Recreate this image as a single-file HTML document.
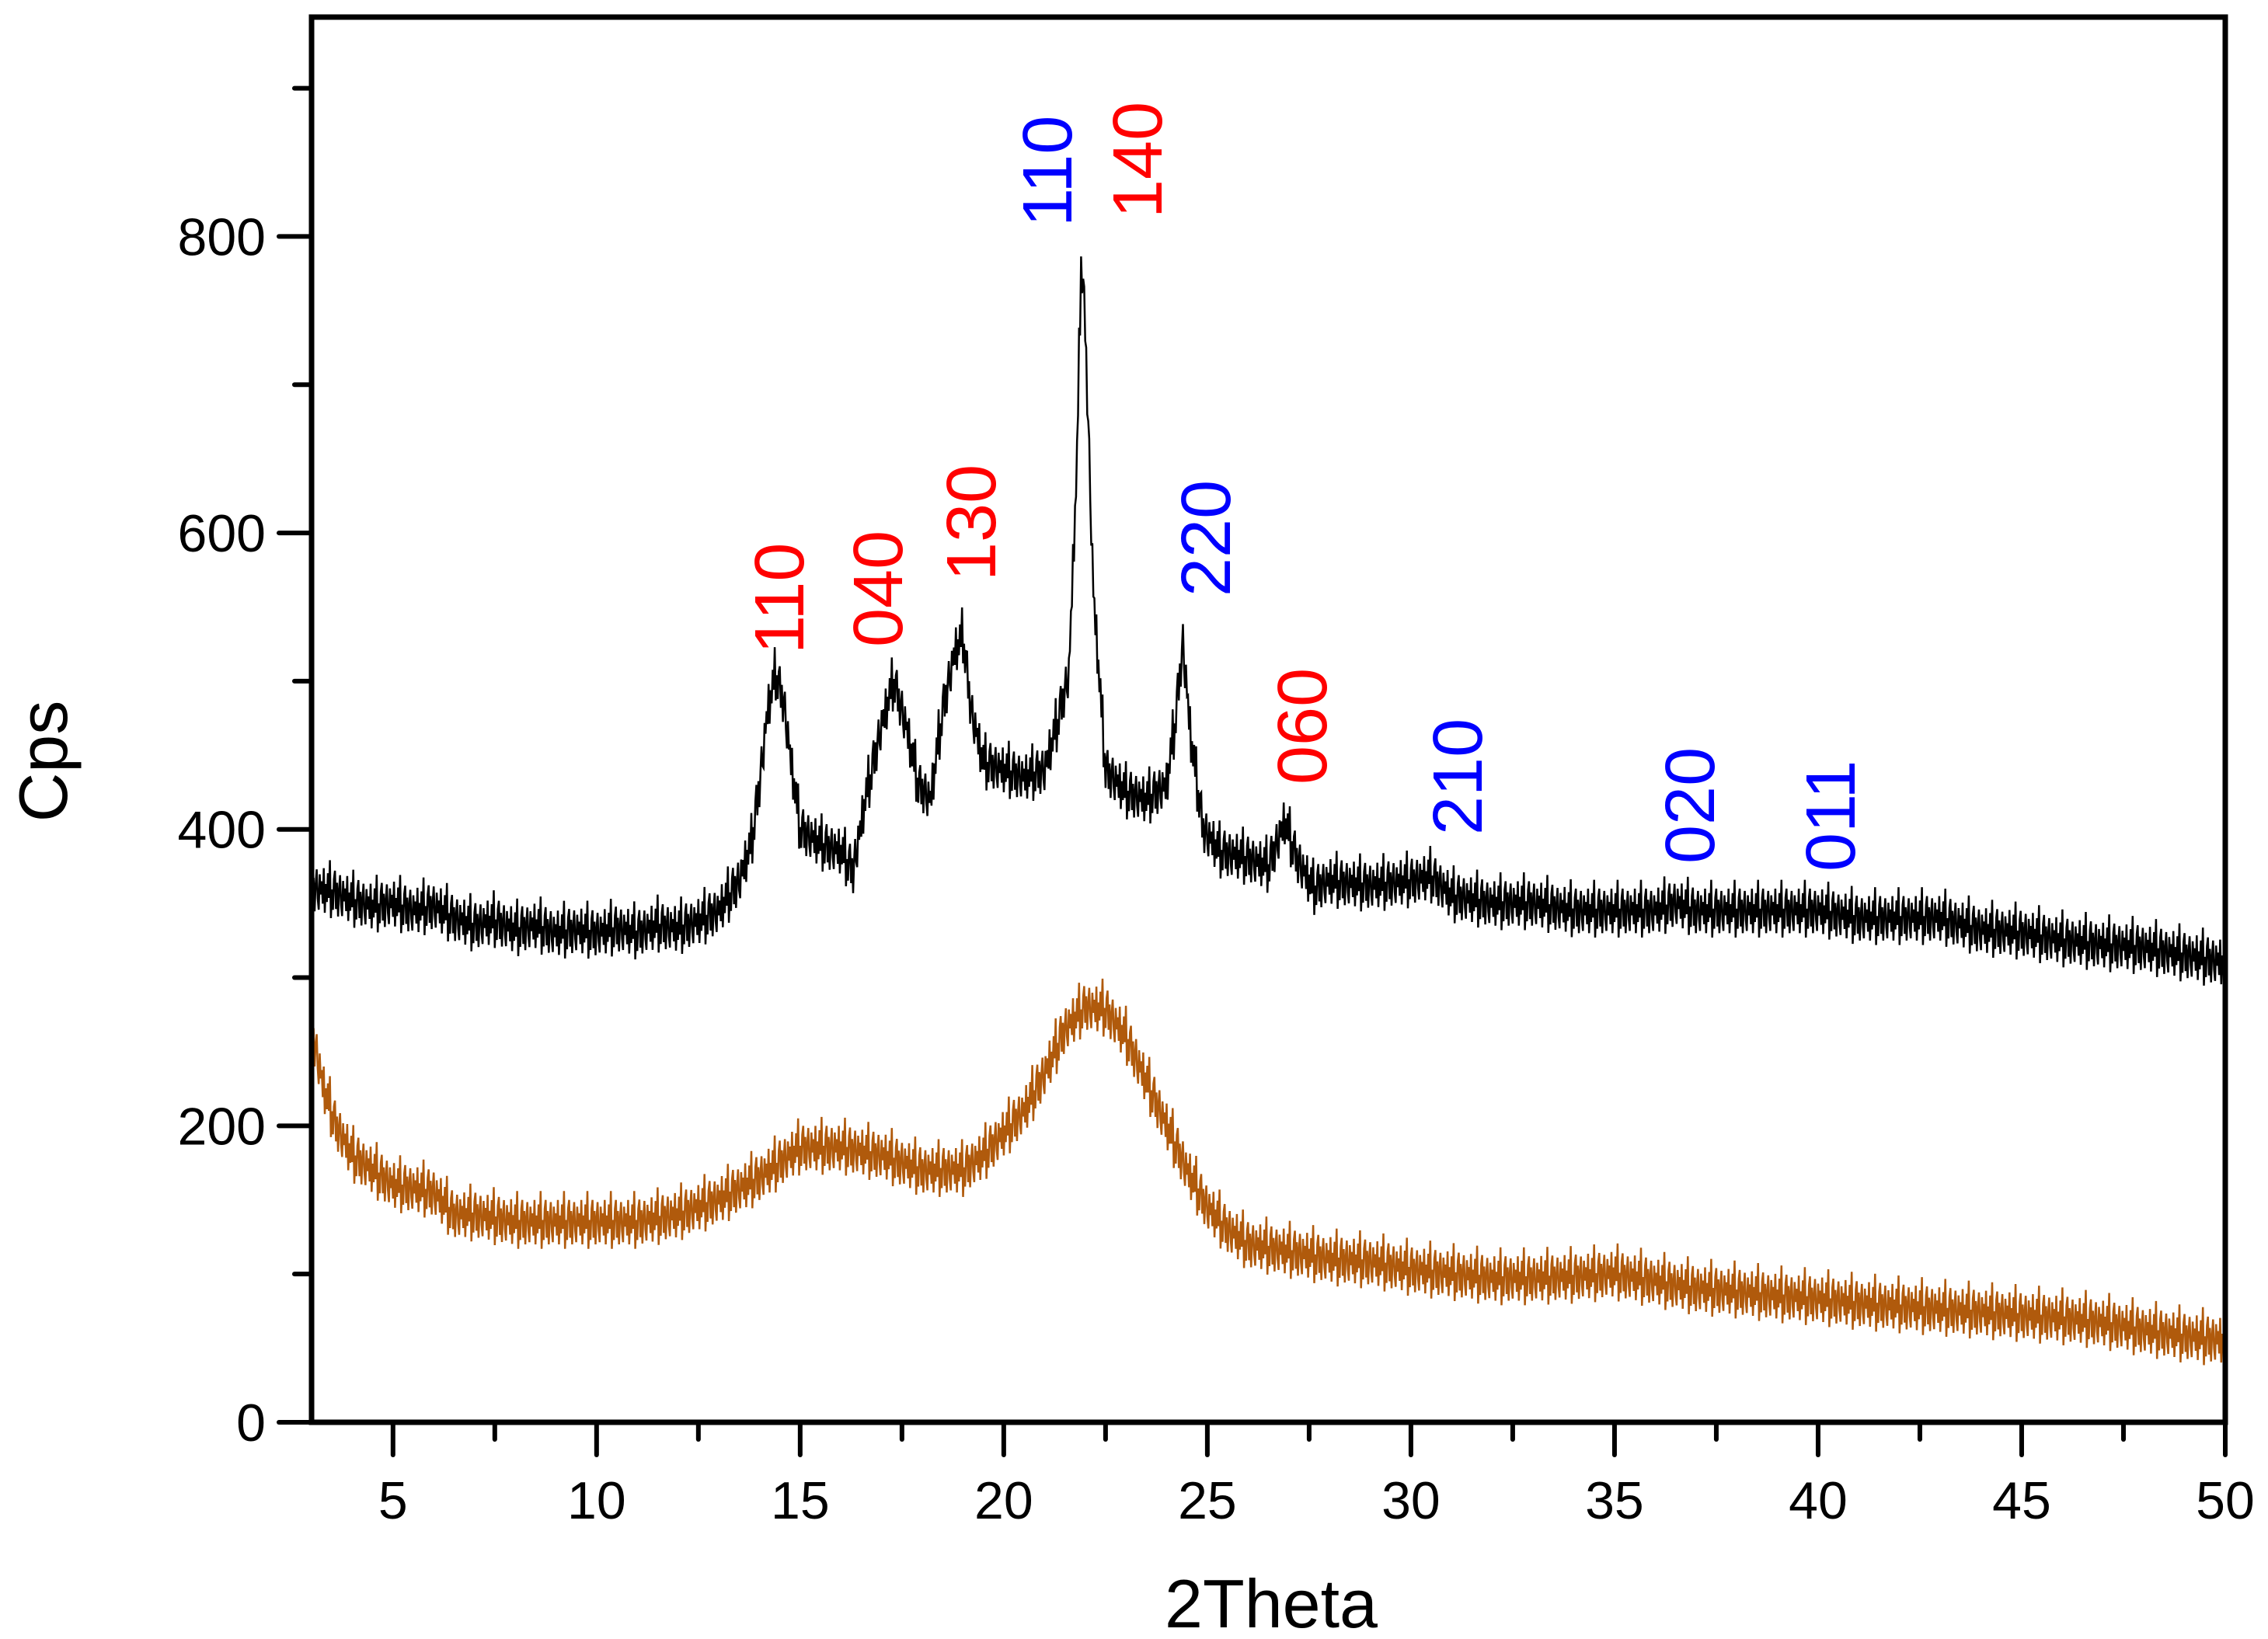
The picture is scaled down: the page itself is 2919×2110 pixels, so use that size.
<!DOCTYPE html>
<html><head><meta charset="utf-8"><style>html,body{margin:0;padding:0;background:#fff}svg{display:block}</style></head>
<body>
<svg id="chart" width="2919" height="2110" viewBox="0 0 2919 2110" xmlns="http://www.w3.org/2000/svg" font-family="'Liberation Sans', Arial, sans-serif">
<rect width="2919" height="2110" fill="#fff"/>
<g id="series"></g>
<g id="axes"></g>
<g id="labels" font-size="90">
<text fill="#ff0000" transform="translate(1034,842) rotate(-90)">110</text>
<text fill="#ff0000" transform="translate(1161,833) rotate(-90)">040</text>
<text fill="#ff0000" transform="translate(1281,748) rotate(-90)">130</text>
<text fill="#0000ff" transform="translate(1379,292) rotate(-90)">110</text>
<text fill="#ff0000" transform="translate(1495,281) rotate(-90)">140</text>
<text fill="#0000ff" transform="translate(1583,768) rotate(-90)">220</text>
<text fill="#ff0000" transform="translate(1707,1010) rotate(-90)">060</text>
<text fill="#0000ff" transform="translate(1907,1075) rotate(-90)">210</text>
<text fill="#0000ff" transform="translate(2206,1112) rotate(-90)">020</text>
<text fill="#0000ff" transform="translate(2387,1122) rotate(-90)">011</text>
</g>
<text x="1636" y="2095" font-size="88" text-anchor="middle">2Theta</text>
<text font-size="88" text-anchor="middle" transform="translate(86,980) rotate(-90)">Cps</text>
</svg>
<script>
const blackX = [3,3.5,4,4.5,5,5.5,6,6.5,7,7.5,8,8.5,9,9.5,10,10.5,11,11.5,12,12.5,13,13.5,13.8,14,14.2,14.4,14.6,14.8,15,15.5,16,16.3,16.6,17,17.3,17.6,17.9,18.2,18.5,18.8,19,19.2,19.5,20,20.5,21,21.3,21.6,21.8,21.9,22,22.2,22.5,23,23.5,24,24.2,24.4,24.6,24.9,25.3,26,26.5,26.9,27.2,27.6,28,29,30,30.5,31,32,33,34,35,36,36.5,37,38,39,40,41,42,43,44,45,46,47,48,49,50];
const blackY = [360,358,352,348,350,345,348,340,335,338,332,335,330,332,330,333,330,335,333,338,345,365,390,430,480,505,485,440,400,390,385,372,420,470,500,470,430,420,480,520,530,480,445,440,435,440,470,505,650,785,740,560,440,425,420,430,470,525,460,400,385,380,375,405,380,360,365,362,365,368,355,350,350,345,345,345,350,345,345,345,345,340,340,340,332,330,325,322,320,315,310];
const brownX = [3,3.3,3.6,4,4.5,5,6,6.5,7,8,9,10,11,12,13,14,14.5,15,16,17,18,19,19.5,20,20.5,21,21.5,22,22.5,23,23.5,24,24.5,25,25.5,26,27,28,29,30,31,32,33,34,35,36,37,38,39,40,41,42,43,44,45,46,47,48,49,50];
const brownY = [265,225,200,180,170,160,155,140,140,135,135,135,135,140,150,165,175,185,185,180,170,170,180,195,210,235,265,280,278,260,230,200,170,145,130,120,115,110,108,103,100,97,97,98,100,95,90,88,85,83,80,78,76,74,72,70,67,62,58,55];
const xTicks = [5,10,15,20,25,30,35,40,45,50];
const yTicks = [0,200,400,600,800];

const L=401,R=2864,T=22,B=1831,XMIN=3,XMAX=50,YMIN=0,YMAX=948;
const sx=v=>L+(v-XMIN)/(XMAX-XMIN)*(R-L);
const sy=v=>B-(v-YMIN)/(YMAX-YMIN)*(B-T);
const NS='http://www.w3.org/2000/svg';
function mk(t,a){const e=document.createElementNS(NS,t);for(const k in a)e.setAttribute(k,a[k]);return e;}
const jit=[1,-0.7,0.5,-1,0.2,0.9,-0.4,-0.9,0.7,-0.2,0.4,-0.6,1,-1,0.3,-0.5,0.8,-0.3,1.4,-1.2,0.1,-0.8,0.6];
function interp(xs,ys,x){for(let i=1;i<xs.length;i++){if(x<=xs[i]){const t=(x-xs[i-1])/(xs[i]-xs[i-1]);return ys[i-1]+t*(ys[i]-ys[i-1]);}}return ys[ys.length-1];}
function pathFor(xs,ys,amp){let d='';let k=0;for(let x=XMIN;x<=XMAX+1e-9;x+=0.025){const y=interp(xs,ys,x)+amp*jit[k%jit.length];d+=(k?'L':'M')+sx(x).toFixed(1)+','+sy(y).toFixed(1);k++;}return d;}
const sg=document.getElementById('series');
const pb=mk('path',{d:pathFor(brownX,brownY,15),fill:'none',stroke:'#b05a0c','stroke-width':2.5});


sg.appendChild(pb);
const pk=mk('path',{d:pathFor(blackX,blackY,15),fill:'none',stroke:'#000','stroke-width':2.5});


sg.appendChild(pk);

const ax=document.getElementById('axes');
const frame=mk('rect',{x:L,y:T,width:R-L,height:B-T,fill:'none',stroke:'#000','stroke-width':7});


ax.appendChild(frame);
for(let v=5;v<=50;v+=2.5){const maj=v%5===0;const t=mk('line',{x1:sx(v),x2:sx(v),y1:B,y2:B+(maj?42:22),stroke:'#000','stroke-width':6,'stroke-linecap':'round'});


ax.appendChild(t);}
xTicks.forEach(v=>{const t=mk('text',{x:sx(v),y:1955,'font-size':68,'text-anchor':'middle'});t.textContent=v;


ax.appendChild(t);});
for(let v=0;v<=900;v+=100){const maj=v%200===0;const t=mk('line',{x1:L,x2:L-(maj?42:22),y1:sy(v),y2:sy(v),stroke:'#000','stroke-width':6,'stroke-linecap':'round'});


ax.appendChild(t);}
yTicks.forEach(v=>{const t=mk('text',{x:342,y:sy(v)+24,'font-size':68,'text-anchor':'end'});t.textContent=v;


ax.appendChild(t);});
</script>
</body></html>
